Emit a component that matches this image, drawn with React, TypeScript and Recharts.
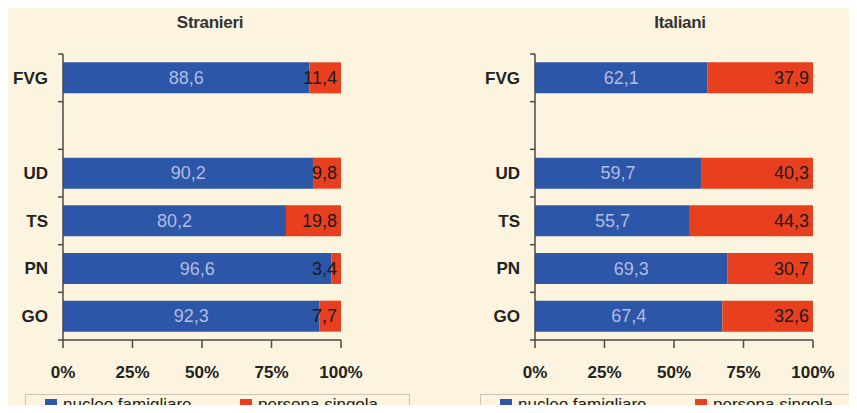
import { Bar, BarChart, LabelList, XAxis, YAxis } from "recharts";

const categories = ["FVG", " ", "UD", "TS", "PN", "GO"];
const stranieriNucleo = [88.6, null, 90.2, 80.2, 96.6, 92.3];
const stranieriSingola = [11.4, null, 9.8, 19.8, 3.4, 7.7];
const italianiNucleo = [62.1, null, 59.7, 55.7, 69.3, 67.4];
const italianiSingola = [37.9, null, 40.3, 44.3, 30.7, 32.6];
const xTicks = [0, 25, 50, 75, 100];

const FONT = '"Liberation Sans", Arial, sans-serif';
const BG = "#fcf4de";
const BLUE = "#2c56a7";
const RED = "#e8401f";
const AXIS = "#4a4a4a";

const CHART_H = 413;
const M_TOP = 54;
const M_BOTTOM = 43;
const X_AXIS_H = 30;
const BAND_HALF = (CHART_H - M_TOP - M_BOTTOM - X_AXIS_H) / categories.length / 2;

const fmt = (v: number) => v.toFixed(1).replace(".", ",");

function buildRows(nucleo: (number | null)[], singola: (number | null)[]) {
  return categories.map((name, i) => ({ name, nucleo: nucleo[i], singola: singola[i] }));
}

// Excel-style y ticks: marks sit on the band edges, labels in the middle
function CategoryTick(props: any) {
  const { x, y, payload, index } = props;
  const ax = Number(x) + 15;
  const cy = Number(y);
  const top = cy - BAND_HALF;
  const bottom = cy + BAND_HALF;
  return (
    <g>
      <path d={`M${ax - 5},${top}H${ax}`} stroke={AXIS} strokeWidth={1.5} fill="none" />
      {index === categories.length - 1 && (
        <path d={`M${ax - 5},${bottom}H${ax}`} stroke={AXIS} strokeWidth={1.5} fill="none" />
      )}
      <text x={x} y={y} dy="0.35em" textAnchor="end" fontFamily={FONT} fontWeight="bold" fontSize={17} fill="#222">
        {payload.value}
      </text>
    </g>
  );
}

function CenterLabel(props: any) {
  const { x, y, width, height, value } = props;
  if (value == null) return null;
  return (
    <text x={x + width / 2} y={y + height / 2} dy="0.35em" textAnchor="middle" fontFamily={FONT} fontSize={18} fill="#b3bbe2">
      {fmt(value)}
    </text>
  );
}

function EndLabel(props: any) {
  const { x, y, width, height, value } = props;
  if (value == null) return null;
  return (
    <text x={x + width - 4} y={y + height / 2} dy="0.35em" textAnchor="end" fontFamily={FONT} fontSize={18} fill="#1a1a1a">
      {fmt(value)}
    </text>
  );
}

function Panel({ title, rows, left, width, marginLeft, marginRight, titleX, legendX }: any) {
  return (
    <div style={{ position: "absolute", left, top: 0, width, height: CHART_H }}>
      <div
        style={{
          position: "absolute",
          left: titleX - left - 60,
          width: 120,
          top: 13,
          textAlign: "center",
          fontFamily: FONT,
          fontWeight: "bold",
          fontSize: 17,
          letterSpacing: -0.3,
          color: "#333",
        }}
      >
        {title}
      </div>
      <BarChart
        width={width}
        height={CHART_H}
        data={rows}
        layout="vertical"
        margin={{ top: M_TOP, right: marginRight, bottom: M_BOTTOM, left: marginLeft }}
        barCategoryGap="17.5%"
      >
        <XAxis
          type="number"
          domain={[0, 100]}
          ticks={xTicks}
          tickFormatter={(v) => `${v}%`}
          axisLine={{ stroke: AXIS, strokeWidth: 1.5 }}
          tickLine={{ stroke: AXIS, strokeWidth: 1.5 }}
          tickSize={8}
          tickMargin={18}
          height={X_AXIS_H}
          tick={{ fontFamily: FONT, fontWeight: "bold", fontSize: 17, fill: "#222" }}
          interval={0}
        />
        <YAxis
          type="category"
          dataKey="name"
          width={55}
          axisLine={{ stroke: AXIS, strokeWidth: 1.5 }}
          tickLine={false}
          tickSize={5}
          tickMargin={10}
          tick={(p: any) => <CategoryTick {...p} />}
          interval={0}
        />
        <Bar dataKey="nucleo" stackId="a" fill={BLUE} isAnimationActive={false}>
          <LabelList dataKey="nucleo" content={<CenterLabel />} />
        </Bar>
        <Bar dataKey="singola" stackId="a" fill={RED} isAnimationActive={false}>
          <LabelList dataKey="singola" content={<EndLabel />} />
        </Bar>
      </BarChart>
      <div
        style={{
          position: "absolute",
          left: legendX - left,
          top: 394,
          width: 385,
          height: 40,
          border: "1px solid #c9c4b6",
          boxSizing: "border-box",
          fontFamily: FONT,
          fontSize: 17,
          lineHeight: "17px",
          color: "#222",
        }}
      >
        <span style={{ position: "absolute", left: 19, top: 4, width: 12, height: 12, background: BLUE }} />
        <span style={{ position: "absolute", left: 37, top: 1, whiteSpace: "nowrap" }}>nucleo famigliare</span>
        <span style={{ position: "absolute", left: 214, top: 4, width: 12, height: 12, background: RED }} />
        <span style={{ position: "absolute", left: 232, top: 1, whiteSpace: "nowrap" }}>persona singola</span>
      </div>
    </div>
  );
}

export default function App() {
  return (
    <div style={{ position: "relative", width: 857, height: CHART_H, margin: -8, background: BG, overflow: "hidden" }}>
      <Panel
        title="Stranieri"
        rows={buildRows(stranieriNucleo, stranieriSingola)}
        left={0}
        width={428}
        marginLeft={8}
        marginRight={87}
        titleX={210}
        legendX={25}
      />
      <Panel
        title="Italiani"
        rows={buildRows(italianiNucleo, italianiSingola)}
        left={428}
        width={429}
        marginLeft={52}
        marginRight={44}
        titleX={680}
        legendX={480}
      />
    </div>
  );
}
